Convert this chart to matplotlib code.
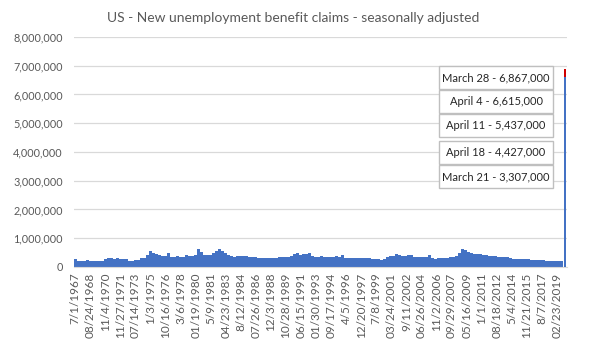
import numpy as np
import matplotlib
matplotlib.use("Agg")
import matplotlib.pyplot as plt
from matplotlib.patches import Rectangle
from matplotlib.ticker import FuncFormatter

plt.rcParams["font.family"] = ["Lato", "DejaVu Sans"]

# weekly initial claims (thousands), one value per ~3px strip
claims_hist = [
    270, 210, 205, 205, 235, 200, 195, 200, 210, 200,
    290, 300, 300, 290, 310, 265, 265, 290, 220, 215,
    240, 245, 320, 300, 430, 540, 500, 450, 400, 370,
    370, 480, 345, 345, 380, 335, 355, 420, 380, 385,
    400, 620, 520, 420, 410, 430, 480, 540, 620, 560,
    480, 420, 375, 340, 380, 365, 365, 365, 360, 345,
    355, 315, 310, 300, 300, 300, 310, 310, 330, 335,
    355, 345, 380, 440, 480, 430, 445, 445, 480, 380,
    345, 355, 365, 345, 335, 330, 340, 365, 355, 400,
    315, 310, 315, 305, 310, 305, 320, 305, 305, 290,
    280, 280, 255, 280, 330, 380, 385, 450, 400, 390,
    390, 410, 400, 350, 345, 345, 335, 335, 400, 310,
    290, 310, 310, 310, 310, 330, 345, 390, 480, 610,
    580, 530, 495, 465, 455, 440, 420, 400, 390, 370,
    375, 360, 355, 345, 335, 320, 290, 285, 275, 265,
    270, 260, 245, 240, 240, 235, 230, 215, 210, 210,
    210, 210, 212,
]

# the covid weeks
spike_dates = ["March 21", "March 28", "April 4", "April 11", "April 18"]
spike_values = [3307000, 6867000, 6615000, 5437000, 4427000]
spike_colors = ["#4472C4", "#D00000", "#4472C4", "#4472C4", "#4472C4"]

# order of the call-out boxes, top to bottom
box_order = ["March 28", "April 4", "April 11", "April 18", "March 21"]

x_labels = [
    "7/1/1967", "08/24/1968", "11/4/1970", "11/27/1971", "07/14/1973",
    "1/3/1975", "10/16/1976", "3/6/1978", "01/19/1980", "5/9/1981",
    "04/23/1983", "8/12/1984", "07/26/1986", "12/3/1988", "10/28/1989",
    "06/15/1991", "01/30/1993", "09/17/1994", "4/5/1996", "12/20/1997",
    "7/8/1999", "03/24/2001", "9/11/2002", "06/26/2004", "11/2/2006",
    "09/29/2007", "05/16/2009", "1/1/2011", "08/18/2012", "5/4/2014",
    "11/21/2015", "8/7/2017", "02/23/2019",
]

BLUE = "#4472C4"
GREY = "#595959"


def main():
    fig = plt.figure(figsize=(6.0, 3.55), dpi=100)
    ax = fig.add_axes([0.123, 0.248, 0.822, 0.648])

    hist = np.array(claims_hist) * 1000
    n = len(hist)
    ax.bar(np.arange(n), hist, width=1.0, color=BLUE, linewidth=0, zorder=2)

    # spike weeks share the last strip; tallest drawn first so shorter ones sit on top
    order = np.argsort(spike_values)[::-1]
    for k, i in enumerate(order):
        ax.bar(n + 0.1, spike_values[i], width=0.7, color=spike_colors[i],
               linewidth=0, zorder=3 + k)

    ax.set_xlim(-0.5, n + 0.9)
    ax.set_ylim(0, 8000000)
    ax.set_yticks(np.arange(0, 8000001, 1000000))
    ax.yaxis.set_major_formatter(FuncFormatter(lambda v, _: f"{int(v):,}"))
    ax.grid(axis="y", color="#D9D9D9", linewidth=0.9, zorder=0)
    ax.set_axisbelow(True)

    ticks = np.linspace(0, n * 0.985, len(x_labels))
    ax.set_xticks(ticks)
    ax.set_xticklabels(x_labels, rotation=90)

    for s in ["top", "right", "left"]:
        ax.spines[s].set_visible(False)
    ax.spines["bottom"].set_color("#D9D9D9")
    ax.tick_params(axis="both", length=0, colors=GREY)
    ax.tick_params(axis="y", pad=8, labelsize=7.8)
    ax.tick_params(axis="x", pad=4, labelsize=8.5)

    fig.text(0.488, 0.948, "US - New unemployment benefit claims - seasonally adjusted",
             ha="center", va="center", fontsize=10, color=GREY)

    # call-out boxes, figure pixel units
    lookup = dict(zip(spike_dates, spike_values))
    W, H = 600, 355
    tops = [66, 90, 114, 141, 165]
    for name, top in zip(box_order, tops):
        x0, bw, bh = 439, 114, 23
        fig.add_artist(Rectangle((x0 / W, 1 - (top + bh) / H), bw / W, bh / H,
                                 transform=fig.transFigure, facecolor="white",
                                 edgecolor="#BFBFBF", linewidth=1.0, zorder=5))
        fig.text((x0 + bw / 2) / W, 1 - (top + bh / 2) / H,
                 f"{name} - {lookup[name]:,}", ha="center", va="center",
                 fontsize=8, color="#262626", zorder=6)

    fig.savefig("out.png", dpi=100)


if __name__ == "__main__":
    main()
